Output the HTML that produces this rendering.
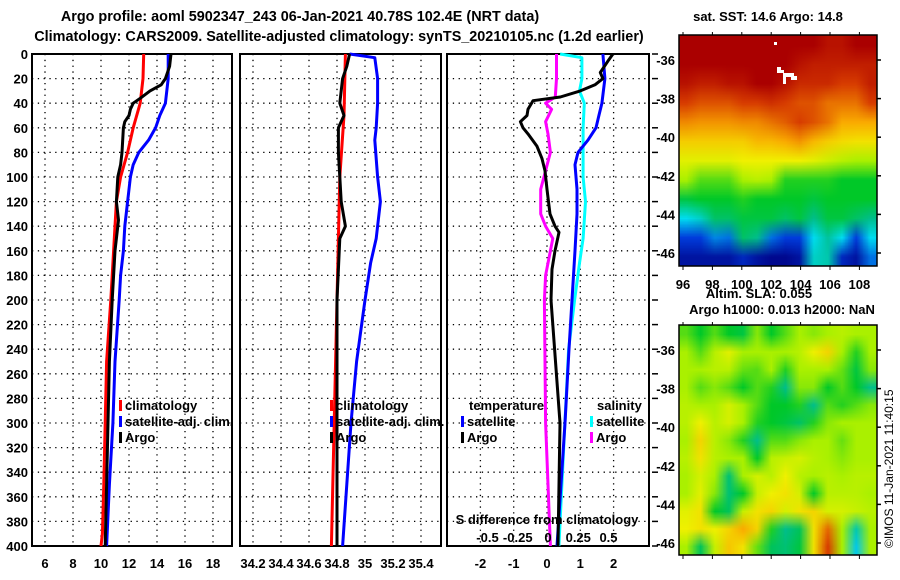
<!DOCTYPE html>
<html><head><meta charset="utf-8"><style>
body{margin:0;background:#fff;}
#wrap{position:relative;width:900px;height:580px;}
canvas{position:absolute;image-rendering:auto;z-index:0;}
svg{position:absolute;left:0;top:0;z-index:1;display:block;font-family:"Liberation Sans",Arial,sans-serif;font-weight:bold;}
</style></head><body>
<div id="wrap">
<canvas id="sstc" style="left:679px;top:35px;width:198px;height:231px"></canvas>
<canvas id="slac" style="left:679px;top:325px;width:198px;height:230px"></canvas>
<svg id="c" width="900" height="580" viewBox="0 0 900 580">
<text x="300" y="21" font-size="14.4" text-anchor="middle">Argo profile: aoml 5902347_243 06-Jan-2021 40.78S 102.4E (NRT data)</text>
<text x="339" y="41" font-size="14.4" text-anchor="middle">Climatology: CARS2009. Satellite-adjusted climatology: synTS_20210105.nc (1.2d earlier)</text>
<text x="768" y="21" font-size="13" text-anchor="middle">sat. SST: 14.6 Argo: 14.8</text>
<text x="759" y="298" font-size="13" text-anchor="middle">Altim. SLA: 0.055</text>
<text x="782" y="314" font-size="13" text-anchor="middle">Argo h1000: 0.013 h2000: NaN</text>
<text transform="translate(893,548) rotate(-90)" font-size="12" font-weight="normal">©IMOS 11-Jan-2021 11:40:15</text>
<g id="g"></g>
</svg>
</div>
<script>
// ---- Data ----
const depthTicks=[0,20,40,60,80,100,120,140,160,180,200,220,240,260,280,300,320,340,360,380,400];
const tTicks=[6,8,10,12,14,16,18];
const sTicks=[34.2,34.4,34.6,34.8,35,35.2,35.4];
const dTicks=[-2,-1,0,1,2];
const sdTicks=[-0.5,-0.25,0,0.25,0.5];
const tClimD=[0,20,40,60,80,100,120,140,160,180,200,250,300,350,390,400];
const tClimV=[13.05,13.0,12.8,12.3,11.9,11.4,11.1,11.0,10.9,10.8,10.7,10.4,10.3,10.2,10.1,10.0];
const tSatD=[0,20,40,50,60,70,80,90,100,120,140,160,180,200,250,300,350,400];
const tSatV=[14.8,14.8,14.6,14.2,13.9,13.4,12.7,12.3,12.1,11.9,11.7,11.6,11.4,11.3,11.0,10.85,10.6,10.4];
const tArgoD=[0,10,20,25,30,36,40,45,50,55,60,80,90,100,120,135,140,160,180,200,250,300,350,400];
const tArgoV=[15.0,14.9,14.6,14.3,13.5,12.8,12.3,12.1,12.0,11.7,11.6,11.5,11.4,11.2,11.1,11.25,11.2,11.0,10.9,10.8,10.6,10.5,10.4,10.3];
const sClimD=[0,50,100,150,200,300,400];
const sClimV=[34.86,34.85,34.82,34.81,34.8,34.78,34.76];
const sSatD=[0,3,20,40,60,70,100,120,150,170,200,250,300,350,400];
const sSatV=[34.89,35.07,35.09,35.09,35.08,35.07,35.09,35.11,35.08,35.04,35.0,34.94,34.9,34.87,34.84];
const sArgoD=[0,10,20,40,50,60,80,100,120,140,150,200,300,400];
const sArgoV=[34.89,34.87,34.84,34.82,34.85,34.81,34.81,34.82,34.83,34.86,34.82,34.8,34.8,34.8];
const dtSatD=[0,20,40,50,60,70,80,90,110,130,160,200,240,300,400];
const dtSatV=[1.68,1.74,1.65,1.56,1.47,1.23,0.93,0.84,0.9,0.9,0.84,0.75,0.66,0.54,0.3];
const dtArgoD=[0,5,15,20,25,30,35,38,45,50,55,60,65,75,85,95,110,130,140,145,160,175,200,300,400];
const dtArgoV=[1.98,1.85,1.6,1.68,1.44,1.0,0.4,-0.42,-0.57,-0.6,-0.8,-0.72,-0.57,-0.3,-0.15,-0.06,0,0.09,0.24,0.36,0.24,0.15,0.12,0.39,0.33];
const dsSatD=[0,3,20,30,40,60,100,120,150,170,200,240,300,400];
const dsSatV=[0.1,0.28,0.28,0.26,0.3,0.29,0.29,0.31,0.29,0.26,0.22,0.17,0.14,0.09];
const dsArgoD=[0,20,35,40,45,55,65,80,95,110,130,140,150,160,180,200,300,400];
const dsArgoV=[0.07,0.07,0.06,-0.02,0.03,-0.02,0,0.02,-0.02,-0.06,-0.06,-0.02,0.04,0.02,-0.02,-0.03,-0.02,0.02];
const sstGrid=[
[1,1,1,1,1,1,1,1,1,1,.97,.97,1,1],
[1,1,1,1,1,1,1,1,.97,.95,.95,.95,.95,.95],
[.97,.95,.95,.97,.97,1,1,.97,.93,.93,.93,.9,.9,.95],
[.9,.88,.88,.88,.9,.9,.92,.9,.88,.88,.85,.85,.85,.9],
[.83,.82,.82,.82,.83,.83,.85,.87,.9,.88,.85,.8,.8,.8],
[.75,.75,.75,.75,.75,.78,.78,.8,.82,.78,.75,.73,.72,.72],
[.68,.68,.68,.68,.7,.7,.7,.7,.7,.68,.65,.62,.6,.6],
[.6,.55,.55,.55,.6,.62,.6,.52,.52,.52,.52,.5,.5,.5],
[.48,.5,.5,.5,.52,.5,.5,.5,.5,.48,.5,.5,.5,.5],
[.3,.35,.45,.45,.48,.48,.48,.45,.48,.42,.48,.48,.45,.42],
[.15,.15,.22,.2,.45,.42,.2,.15,.15,.3,.4,.3,.15,.3],
[.05,.05,.05,.05,.1,.05,.02,.02,.05,.35,.38,.1,.05,.2]];
const slaGrid=[
[.55,.5,.55,.5,.48,.58,.5,.55,.6,.58,.6,.62,.6,.6],
[.6,.55,.62,.68,.6,.6,.6,.6,.62,.7,.74,.6,.52,.6],
[.6,.6,.62,.62,.56,.55,.6,.52,.6,.6,.6,.56,.48,.58],
[.6,.55,.58,.55,.5,.55,.52,.42,.58,.58,.5,.55,.5,.42],
[.62,.6,.6,.66,.6,.55,.5,.5,.52,.42,.55,.52,.55,.58],
[.62,.7,.62,.66,.6,.52,.5,.48,.45,.52,.58,.6,.6,.6],
[.6,.74,.62,.58,.52,.42,.55,.55,.58,.6,.6,.56,.6,.6],
[.62,.72,.62,.6,.6,.5,.62,.64,.66,.62,.6,.58,.6,.6],
[.6,.66,.6,.44,.6,.66,.62,.7,.62,.6,.62,.6,.62,.62],
[.6,.68,.58,.44,.5,.64,.7,.72,.66,.5,.62,.62,.62,.6],
[.68,.72,.5,.46,.64,.72,.74,.66,.72,.74,.66,.66,.64,.62],
[.7,.72,.7,.74,.8,.74,.52,.42,.46,.72,.86,.6,.38,.6],
[.6,.46,.64,.76,.72,.56,.46,.44,.48,.72,.9,.6,.28,.6]];
const latTicks=[-36,-38,-40,-42,-44,-46];
const lonTicks=[96,98,100,102,104,106,108];

// ---- helpers ----
const NS="http://www.w3.org/2000/svg";
const G=document.getElementById('g');
function mk(t,a,p){const e=document.createElementNS(NS,t);for(const k in a)e.setAttribute(k,a[k]);(p||G).appendChild(e);return e;}
const Y0=54,PPM=1.23;
const yD=d=>Y0+d*PPM;
const xT=v=>45+(v-6)*14;
const xS=v=>337+(v-34.8)*140;
const xDT=v=>547+v*33.3;
const xDS=v=>548+v*121;
const panels=[[32,232],[240,441],[447,649]];

function frame(i,ticks,xf,labelDepth){
  const [l,r]=panels[i];
  for(const d of depthTicks){const y=yD(d);
    const gl=mk('line',{x1:l,x2:r,y1:y,y2:y,stroke:'#000','stroke-width':1.3,'stroke-dasharray':'1.3 4.5'});
    
    
    if(labelDepth){const t=mk('text',{x:28,y:y+5,'font-size':13,'text-anchor':'end'});t.textContent=d;
      
      }
  }
  for(const v of ticks){const x=xf(v);
    const gl=mk('line',{x1:x,x2:x,y1:Y0,y2:yD(400),stroke:'#000','stroke-width':1.3,'stroke-dasharray':'1.3 4.5'});
    
    
    const t=mk('text',{x:x,y:568,'font-size':13,'text-anchor':'middle'});t.textContent=v;
    
    
  }
  const b=mk('rect',{x:l,y:Y0,width:r-l,height:yD(400)-Y0,fill:'none',stroke:'#000','stroke-width':2});
  
  
}
frame(0,tTicks,xT,true);
frame(1,sTicks,xS,false);
frame(2,dTicks,xDT,false);
for(const d of depthTicks){const y=yD(d);mk('line',{x1:652,x2:658,y1:y,y2:y,stroke:'#000','stroke-width':1.5});}

function line(D,V,xf,col,name){
  const p=D.map((d,i)=>xf(V[i]).toFixed(1)+','+yD(d).toFixed(1)).join(' ');
  const e=mk('polyline',{points:p,fill:'none',stroke:col,'stroke-width':3,'stroke-linejoin':'round'});
  
  
}
line(tClimD,tClimV,xT,'#f00','temp-climatology-line');
line(tSatD,tSatV,xT,'#00f','temp-satellite-line');
line(tArgoD,tArgoV,xT,'#000','temp-argo-line');
line(sClimD,sClimV,xS,'#f00','sal-climatology-line');
line(sSatD,sSatV,xS,'#00f','sal-satellite-line');
line(sArgoD,sArgoV,xS,'#000','sal-argo-line');
line(dsSatD,dsSatV,xDS,'#0ff','dsal-satellite-line');
line(dsArgoD,dsArgoV,xDS,'#f0f','dsal-argo-line');
line(dtSatD,dtSatV,xDT,'#00f','dtemp-satellite-line');
line(dtArgoD,dtArgoV,xDT,'#000','dtemp-argo-line');

function leg(x,y,col,txt,name){
  const m=mk('rect',{x:x,y:y-10,width:3,height:11,fill:col});
  
  
  const t=mk('text',{x:x+6,y:y,'font-size':13});t.textContent=txt;
  
  
}
leg(119,410,'#f00','climatology','legend-climatology');
leg(119,426,'#00f','satellite-adj. clim.','legend-satellite');
leg(119,442,'#000','Argo','legend-argo');
leg(330,410,'#f00','climatology','legend2-climatology');
leg(330,426,'#00f','satellite-adj. clim.','legend2-satellite');
leg(330,442,'#000','Argo','legend2-argo');
leg(461,426,'#00f','satellite','legend3-temp-satellite');
leg(461,442,'#000','Argo','legend3-temp-argo');
leg(590,426,'#0ff','satellite','legend3-sal-satellite');
leg(590,442,'#f0f','Argo','legend3-sal-argo');
let t=mk('text',{x:469,y:410,'font-size':13});t.textContent='temperature';


t=mk('text',{x:597,y:410,'font-size':13});t.textContent='salinity';


t=mk('text',{x:547,y:524,'font-size':13,'text-anchor':'middle'});t.textContent='S difference from climatology';


for(const v of sdTicks){const e=mk('text',{x:xDS(v),y:542,'font-size':13,'text-anchor':'middle'});e.textContent=v;
  
  }

// ---- maps ----
function cmapRGB(v){
  const st=[[0,[0,0,130]],[.15,[0,60,220]],[.3,[0,220,240]],[.42,[0,190,140]],[.5,[0,200,40]],[.6,[170,240,0]],[.7,[240,240,0]],[.8,[250,170,0]],[.9,[215,60,0]],[1,[170,0,0]]];
  for(let i=1;i<st.length;i++){if(v<=st[i][0]){const a=st[i-1],b=st[i],f=(v-a[0])/(b[0]-a[0]);
    return a[1].map((c,k)=>Math.round(c+(b[1][k]-c)*f));}}
  return [170,0,0];
}
function paint(id,grid){
  const cv=document.getElementById(id);
  const rows=grid.length,cols=grid[0].length;
  cv.width=cols;cv.height=rows;
  const ctx=cv.getContext('2d');
  const img=ctx.createImageData(cols,rows);
  grid.forEach((row,r)=>row.forEach((v,c)=>{const rgb=cmapRGB(v),o=(r*cols+c)*4;
    img.data[o]=rgb[0];img.data[o+1]=rgb[1];img.data[o+2]=rgb[2];img.data[o+3]=255;}));
  ctx.putImageData(img,0,0);
}
paint('sstc',sstGrid);
paint('slac',slaGrid);
function mapAxes(x0,y0,w,h,name,latOff){
  const b=mk('rect',{x:x0,y:y0,width:w,height:h,fill:'none',stroke:'#000','stroke-width':1.5});
  
  
  for(const lat of latTicks){const y=y0+latOff+(-36-lat)*19.3;
    const l=mk('text',{x:x0-4,y:y+5,'font-size':13,'text-anchor':'end'});l.textContent=lat;
    
    
    mk('line',{x1:x0+w,x2:x0+w+4,y1:y,y2:y,stroke:'#000','stroke-width':1.5});}
  for(const lon of lonTicks){const x=x0+4+(lon-96)*14.7;
    mk('line',{x1:x,x2:x,y1:y0-3,y2:y0,stroke:'#000','stroke-width':1});
    mk('line',{x1:x,x2:x,y1:y0+h,y2:y0+h+4,stroke:'#000','stroke-width':1});}
}
mapAxes(679,35,198,231,'sst-map',25);
mapAxes(679,325,198,230,'sla-map',25);
for(const lon of lonTicks){const x=683+(lon-96)*14.7;
  const l=mk('text',{x:x,y:289,'font-size':13,'text-anchor':'middle'});l.textContent=lon;
  
  }
// argo float marker on SST map
const fm=mk('path',{d:'M774,42h3v3h-3z M777,67h4v3h3v3h10v3h3v4h-6v-3h-5v7h-3v-11h-6z',fill:'#fff'});


</script>
</body></html>
